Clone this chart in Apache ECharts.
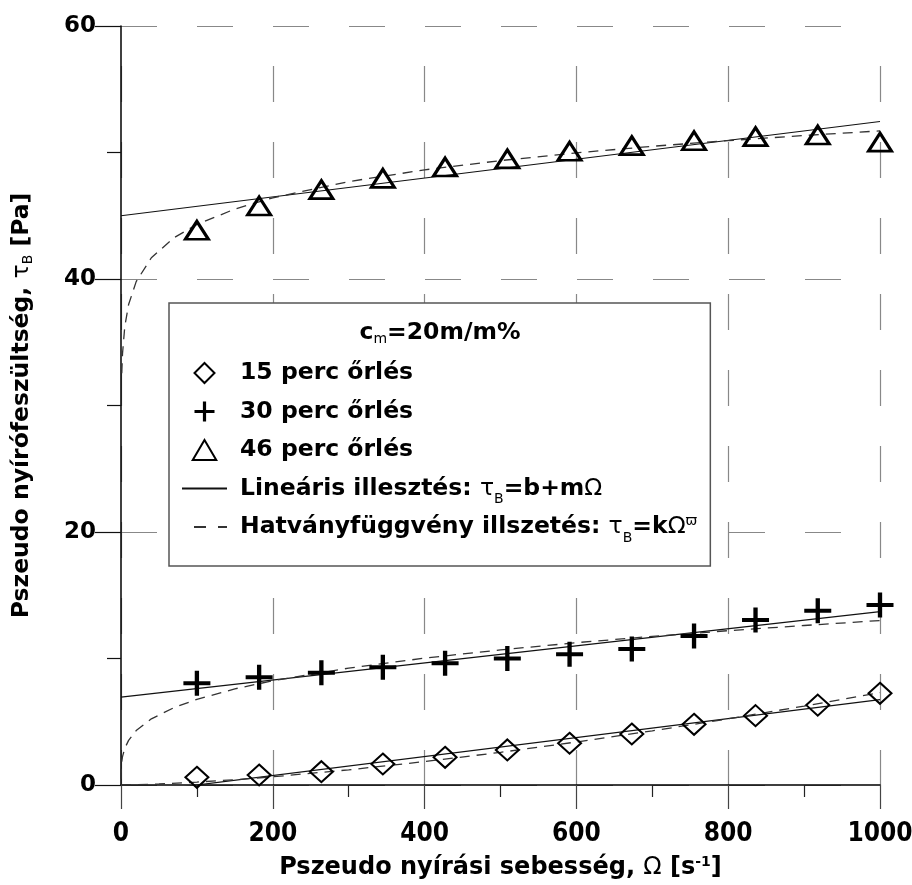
<!DOCTYPE html>
<html>
<head>
<meta charset="utf-8">
<script src="https://cdn.jsdelivr.net/npm/echarts@6/dist/echarts.min.js"></script>
<style>
  html, body { margin: 0; padding: 0; background: #fff; }
  #chart { width: 912px; height: 885px; }
</style>
</head>
<body>
<div id="chart"></div>
<script>
// Pseudo shear rate Ω [1/s] of the measured points
const omega = [100, 182, 264, 345, 427, 509, 591, 673, 755, 836, 918, 1000];
// Pseudo shear stress τB [Pa] after 15, 30 and 46 minutes of grinding
const tau15 = [0.61, 0.79, 1.05, 1.66, 2.19, 2.77, 3.30, 4.03, 4.80, 5.48, 6.32, 7.25];
const tau30 = [8.04, 8.51, 8.88, 9.30, 9.62, 10.00, 10.33, 10.75, 11.78, 13.04, 13.78, 14.23];
const tau46 = [43.85, 45.77, 47.06, 47.96, 48.85, 49.49, 50.10, 50.54, 50.93, 51.25, 51.38, 50.82];

// Linear fits τB = b + mΩ, given by their end values
const linX = [0, 1000];
const lin15 = [-0.75, 6.75];
const lin30 = [6.95, 13.70];
const lin46 = [45.00, 52.45];

// Power-law fits τB = kΩ^n
const pow15X = [0, 50, 100, 150, 200, 300, 400, 500, 600, 700, 800, 900, 1000];
const pow15 = [0, 0.08, 0.23, 0.42, 0.65, 1.20, 1.85, 2.58, 3.40, 4.28, 5.23, 6.24, 7.30];
const pow30X = [0.01, 0.05, 0.2, 0.5, 1, 2, 5, 10, 20, 40, 70, 100, 150, 200, 300, 400, 500, 600, 700, 800, 900, 1000];
const pow30 = [0.50, 0.79, 1.17, 1.51, 1.84, 2.24, 2.90, 3.53, 4.30, 5.23, 6.12, 6.77, 7.60, 8.24, 9.24, 10.03, 10.68, 11.25, 11.75, 12.20, 12.61, 13.00];
const pow46X = [1, 2, 5, 10, 20, 40, 70, 100, 150, 200, 300, 400, 500, 600, 700, 800, 900, 1000];
const pow46 = [32.55, 34.1, 36.25, 37.98, 39.79, 41.68, 43.27, 44.31, 45.53, 46.42, 47.70, 48.63, 49.36, 49.97, 50.49, 50.94, 51.34, 51.71];

// Axis ticks
const xTicks = { min: 0, max: 1000, step: 200 };
const yTicks = { min: 0, max: 60, step: 20 };

const N15 = '15 perc őrlés';
const N30 = '30 perc őrlés';
const N46 = '46 perc őrlés';
const NLIN = 'Lineáris illesztés';
const NPOW = 'Hatványfüggvény illszetés';

const FONT = 'DejaVu Sans';
const NARROW = '"Liberation Sans Narrow", "Arial Narrow", "DejaVu Sans Condensed", sans-serif';
const boldAt = (size, family) => ({ fontFamily: family || FONT, fontWeight: 'bold', fontSize: size, color: '#000' });
const plainAt = (size) => ({ fontFamily: FONT, fontWeight: 'normal', fontSize: size, color: '#000' });

const titleRich = (size) => ({
  g: plainAt(size),
  sub: Object.assign(plainAt(14), { padding: [12, 0, 0, 0] }),
  sup: Object.assign(boldAt(14), { padding: [0, 0, 12, 0] })
});

// legend rows share one line height so that the subscripts can drop low
const LEG_FS = 23.5;
const LEG_LH = 36;
const legendRich = {
  t: Object.assign(boldAt(LEG_FS), { lineHeight: LEG_LH }),
  g: Object.assign(plainAt(LEG_FS), { lineHeight: LEG_LH }),
  sub: Object.assign(plainAt(14), { padding: [22, 0, 0, 0] }),
  gsup: Object.assign(plainAt(14), { padding: [0, 0, 12, 0] })
};

const pairs = (xs, ys) => xs.map((x, i) => [x, ys[i]]);

const plusPath = 'path://M42,0H58V42H100V58H58V100H42V58H0V42H42Z';
const diamondIcon = 'path://M50,0L100,50L50,100L0,50Z';
const triangleIcon = 'path://M50,0L100,85L0,85Z';

const legendText = {
  [N15]: '{t|' + N15 + '}',
  [N30]: '{t|' + N30 + '}',
  [N46]: '{t|' + N46 + '}',
  [NLIN]: '{t|' + NLIN + ': }{g|τ}{sub|B}{t|=b+m}{g|Ω}',
  [NPOW]: '{t|' + NPOW + ': }{g|τ}{sub|B}{t|=k}{g|Ω}{gsup|ϖ}'
};

const fitLine = (name, data, dashed) => ({
  type: 'line',
  name: name,
  data: data,
  symbol: 'none',
  showSymbol: false,
  clip: true,
  silent: true,
  z: 3,
  itemStyle: { color: '#111' },
  lineStyle: dashed
    ? { color: '#333', width: 1.3, type: [10, 7] }
    : { color: '#111', width: 1.2, type: 'solid' },
  emphasis: { disabled: true }
});

const hiddenMark = { color: 'rgba(0,0,0,0)', borderColor: 'rgba(0,0,0,0)', borderWidth: 0 };
const outlineMark = { color: 'rgba(255,255,255,0)', borderColor: '#000', borderWidth: 2 };

const chart = echarts.init(document.getElementById('chart'), null, { renderer: 'canvas' });

chart.setOption({
  animation: false,
  backgroundColor: '#fff',
  grid: { left: 121, right: 32, top: 26, bottom: 100, containLabel: false, outerBoundsMode: 'none' },
  xAxis: {
    type: 'value',
    min: xTicks.min, max: xTicks.max, interval: xTicks.step,
    axisLine: { onZero: false, lineStyle: { color: '#000', width: 1.5 } },
    axisTick: { show: true, length: 24, lineStyle: { color: '#444', width: 1.2 } },
    minorTick: { show: true, splitNumber: 2, length: 12, lineStyle: { color: '#222', width: 1.2 } },
    axisLabel: Object.assign(boldAt(26, NARROW), { margin: 36, formatter: v => String(v) }),
    splitLine: { show: true, lineStyle: { color: '#888', width: 1.2, type: [36, 40], dashOffset: 36 } },
    minorSplitLine: { show: false },
    name: 'Pszeudo nyírási sebesség, {g|Ω} [s{sup|-1}]',
    nameLocation: 'middle',
    nameGap: 70,
    nameTextStyle: Object.assign(boldAt(24), { rich: titleRich(24) })
  },
  yAxis: {
    type: 'value',
    min: yTicks.min, max: yTicks.max, interval: yTicks.step,
    axisLine: { onZero: false, lineStyle: { color: '#000', width: 1.5 } },
    axisTick: { show: true, length: 26, lineStyle: { color: '#111', width: 1.2 } },
    minorTick: { show: true, splitNumber: 2, length: 14, lineStyle: { color: '#111', width: 1.2 } },
    axisLabel: Object.assign(boldAt(23), { margin: 25, formatter: v => String(v) }),
    splitLine: { show: true, lineStyle: { color: '#888', width: 1.2, type: [36, 40] } },
    minorSplitLine: { show: false },
    name: 'Pszeudo nyírófeszültség, {g|τ}{sub|B} [Pa]',
    nameLocation: 'middle',
    nameGap: 86,
    nameTextStyle: Object.assign(boldAt(23.5), { rich: titleRich(23.5) })
  },
  legend: {
    orient: 'vertical',
    left: 169,
    top: 303,
    backgroundColor: '#fff',
    borderColor: '#555',
    borderWidth: 1.5,
    padding: [52, 13, 21, 12],
    itemWidth: 45,
    itemHeight: 20,
    itemGap: 2.5,
    symbolKeepAspect: true,
    selectedMode: false,
    textStyle: Object.assign(boldAt(LEG_FS), { lineHeight: LEG_LH, padding: [0, 0, 0, 8], rich: legendRich }),
    formatter: name => legendText[name],
    data: [
      { name: N15, icon: diamondIcon, itemStyle: outlineMark },
      { name: N30, icon: plusPath },
      { name: N46, icon: triangleIcon, itemStyle: outlineMark },
      { name: NLIN, itemStyle: hiddenMark },
      { name: NPOW, itemStyle: hiddenMark, lineStyle: { type: [12, 12] } }
    ]
  },
  graphic: [{
    type: 'text',
    x: 440,
    y: 333,
    z: 20,
    style: {
      text: '{b|c}{s|m}{b|=20m/m%}',
      align: 'center',
      verticalAlign: 'middle',
      rich: {
        b: boldAt(LEG_FS),
        s: Object.assign(plainAt(14), { padding: [12, 0, 0, 0] })
      }
    }
  }],
  series: [
    fitLine(NLIN, pairs(linX, lin15), false),
    fitLine(NLIN, pairs(linX, lin30), false),
    fitLine(NLIN, pairs(linX, lin46), false),
    fitLine(NPOW, pairs(pow15X, pow15), true),
    fitLine(NPOW, pairs(pow30X, pow30), true),
    fitLine(NPOW, pairs(pow46X, pow46), true),
    {
      type: 'scatter', name: N15, data: pairs(omega, tau15),
      symbol: 'diamond', symbolSize: [23, 21], z: 5,
      itemStyle: { color: 'rgba(255,255,255,0)', borderColor: '#000', borderWidth: 2, opacity: 1 },
      emphasis: { disabled: true }
    },
    {
      type: 'scatter', name: N30, data: pairs(omega, tau30),
      symbol: plusPath, symbolSize: [27, 25], z: 5,
      itemStyle: { color: '#000', borderWidth: 0, opacity: 1 },
      emphasis: { disabled: true }
    },
    {
      type: 'scatter', name: N46, data: pairs(omega, tau46),
      symbol: 'triangle', symbolSize: [23, 18], z: 5,
      itemStyle: { color: 'rgba(255,255,255,0)', borderColor: '#000', borderWidth: 3, opacity: 1 },
      emphasis: { disabled: true }
    }
  ]
});
</script>
</body>
</html>
